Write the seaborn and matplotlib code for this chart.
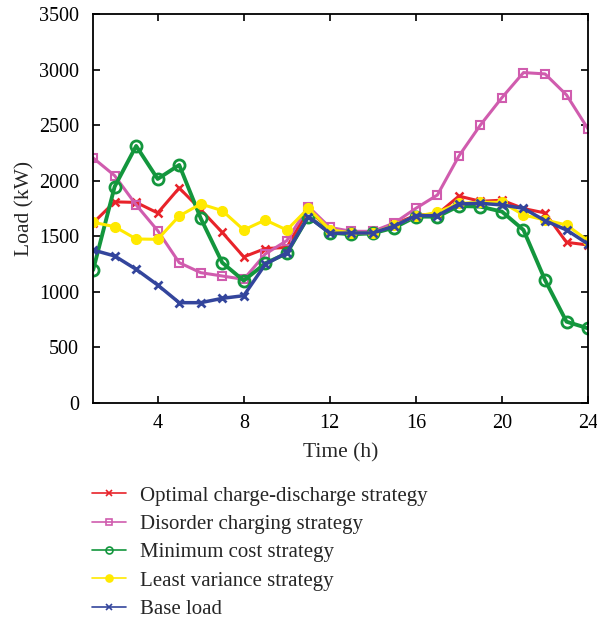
import numpy as np
import pandas as pd
import seaborn as sns
import matplotlib.pyplot as plt

hours = list(range(1, 25))

optimal = [1620, 1810, 1805, 1710, 1935, 1740, 1535, 1315, 1390, 1400, 1740, 1560,
           1540, 1540, 1610, 1690, 1700, 1862, 1815, 1825, 1750, 1710, 1446, 1422]
disorder = [2205, 2046, 1782, 1551, 1263, 1173, 1143, 1113, 1341, 1461, 1767, 1580,
            1545, 1545, 1620, 1752, 1872, 2223, 2502, 2748, 2973, 2961, 2772, 2466]
min_cost = [1197, 1947, 2313, 2016, 2142, 1662, 1263, 1101, 1257, 1347, 1677, 1533,
            1518, 1527, 1578, 1677, 1677, 1773, 1767, 1722, 1557, 1107, 732, 672]
least_var = [1626, 1587, 1476, 1473, 1683, 1791, 1731, 1557, 1647, 1557, 1752, 1560,
             1530, 1530, 1600, 1680, 1716, 1797, 1806, 1806, 1692, 1647, 1602, 1461]
base = [1377, 1323, 1203, 1062, 903, 903, 942, 966, 1248, 1353, 1677, 1527,
        1530, 1530, 1593, 1686, 1686, 1791, 1797, 1782, 1752, 1641, 1557, 1431]

labels = ["Optimal charge-discharge strategy", "Disorder charging strategy",
          "Minimum cost strategy", "Least variance strategy", "Base load"]

sns.set_theme(style="ticks")
plt.rcParams['font.family'] = ['Liberation Serif', 'DejaVu Serif']

styles = [
    dict(data=optimal, color="#e8232a", marker="x", ms=6, lw=2.2, mew=1.8, mfc="none"),
    dict(data=disorder, color="#d05cae", marker="s", ms=6, lw=2.2, mew=1.5, mfc="none"),
    dict(data=min_cost, color="#13963d", marker="o", ms=8, lw=2.8, mew=2.0, mfc="none"),
    dict(data=least_var, color="#ffe900", marker="o", ms=7, lw=2.2, mew=1.0, mfc="#ffe900"),
    dict(data=base, color="#33459c", marker="x", ms=6, lw=2.5, mew=2.0, mfc="none"),
]

fig = plt.figure(figsize=(5.97, 6.22), dpi=100)
ax = fig.add_axes([0.156, 0.352, 0.829, 0.6255])

for lab, st in zip(labels, styles):
    df = pd.DataFrame({"Time": hours, "Load": st["data"]})
    sns.lineplot(data=df, x="Time", y="Load", ax=ax, color=st["color"],
                 marker=st["marker"], markersize=st["ms"], linewidth=st["lw"],
                 markeredgewidth=st["mew"], markerfacecolor=st["mfc"],
                 markeredgecolor=st["color"], label=lab)

ax.set_xlim(1, 24)
ax.set_ylim(0, 3500)
ax.set_xticks([4, 8, 12, 16, 20, 24])
ax.set_yticks(np.arange(0, 3501, 500))
ax.tick_params(direction="in", top=True, right=True, labelsize=14.5, length=5, width=1.2,
               colors="black")
ax.tick_params(axis="y", pad=10)
ax.tick_params(axis="x", pad=8)
for sp in ax.spines.values():
    sp.set_linewidth(1.3)
    sp.set_color("black")
ax.set_xlabel("Time (h)", fontsize=15.5, labelpad=7)
ax.set_ylabel("Load (kW)", fontsize=15.5, labelpad=3)

handles, lbls = ax.get_legend_handles_labels()
leg = fig.legend(handles, lbls, loc="upper left", bbox_to_anchor=(0.140, 0.232),
                 frameon=False, fontsize=15, handlelength=1.65, handletextpad=0.65,
                 labelspacing=0.42, borderaxespad=0)
for ln in leg.get_lines():
    ln.set_linewidth(1.2)
    ln.set_markersize(5)
    ln.set_markeredgewidth(1.2)
ax.get_legend().remove()

fig.savefig("out.png", dpi=100)
